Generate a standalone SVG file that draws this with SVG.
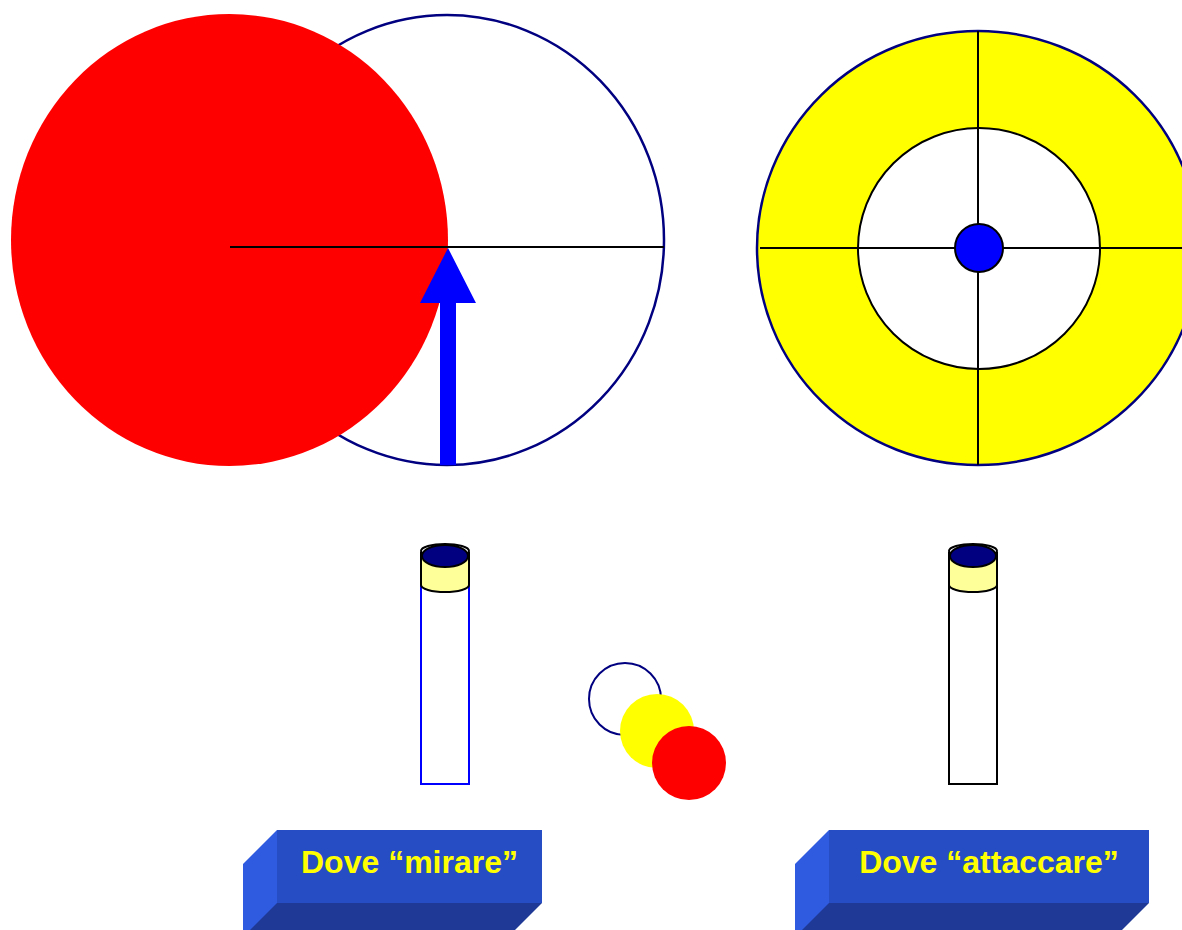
<svg xmlns="http://www.w3.org/2000/svg" width="1182" height="930" viewBox="0 0 1182 930">
<style>
.ln{stroke:#000;stroke-width:2;fill:none}
.cap{fill:#FFFF99;stroke:#000;stroke-width:2}
.lid{fill:#000080;stroke:#000;stroke-width:2}
.front{fill:#264DC4}
.side{fill:#2F5BE0}
.bottom{fill:#1F3A96}
.lbl{font-family:"Liberation Sans",Arial,sans-serif;font-weight:bold;font-size:32px;fill:#FFFF00;text-anchor:middle}
</style>
<rect width="1182" height="930" fill="#fff"/>
<g id="aim">
<ellipse cx="447" cy="240" rx="217" ry="225" fill="#fff" stroke="#000080" stroke-width="2.5"/>
<ellipse cx="229.5" cy="240" rx="218.5" ry="226" fill="#FF0000"/>
<line class="ln" x1="230" y1="247" x2="664" y2="247"/>
<polygon points="448,248 476,303 456,303 456,465 440,465 440,303 420,303" fill="#0000FF"/>
</g>
<g id="target">
<ellipse cx="978" cy="248" rx="221" ry="217" fill="#FFFF00" stroke="#000080" stroke-width="2.5"/>
<ellipse cx="979" cy="248.5" rx="121" ry="120.5" fill="#fff" stroke="#000" stroke-width="2"/>
<line class="ln" x1="978" y1="31" x2="978" y2="465"/>
<line class="ln" x1="760" y1="248" x2="1182" y2="248"/>
<circle cx="979" cy="248" r="24" fill="#0000FF" stroke="#000" stroke-width="2"/>
</g>
<g id="tube-left">
<rect x="421" y="560" width="48" height="224" fill="#fff" stroke="#0000FF" stroke-width="2"/>
<path class="cap" d="M421,553 L421,585 A24,7 0 0 0 469,585 L469,553 Z"/>
<ellipse cx="445" cy="551" rx="24" ry="7" fill="none" stroke="#000" stroke-width="2"/>
<ellipse class="lid" cx="445" cy="556" rx="23" ry="11"/>
</g>
<g id="tube-right">
<rect x="949" y="560" width="48" height="224" fill="#fff" stroke="#000" stroke-width="2"/>
<path class="cap" d="M949,553 L949,585 A24,7 0 0 0 997,585 L997,553 Z"/>
<ellipse cx="973" cy="551" rx="24" ry="7" fill="none" stroke="#000" stroke-width="2"/>
<ellipse class="lid" cx="973" cy="556" rx="23" ry="11"/>
</g>
<g id="balls">
<circle cx="625" cy="699" r="36" fill="#fff" stroke="#000080" stroke-width="2"/>
<circle cx="657" cy="731" r="37" fill="#FFFF00"/>
<circle cx="689" cy="763" r="37" fill="#FF0000"/>
</g>
<g id="btn-mirare">
<polygon class="side" points="243,864 277,830 277,904 243,938"/>
<polygon class="bottom" points="277,903 542,903 508,937 243,937"/>
<rect class="front" x="277" y="830" width="265" height="73"/>
<text class="lbl" x="409.5" y="873">Dove “mirare”</text>
</g>
<g id="btn-attaccare">
<polygon class="side" points="795,864 829,830 829,904 795,938"/>
<polygon class="bottom" points="829,903 1149,903 1115,937 795,937"/>
<rect class="front" x="829" y="830" width="320" height="73"/>
<text class="lbl" x="989" y="873">Dove “attaccare”</text>
</g>
</svg>
